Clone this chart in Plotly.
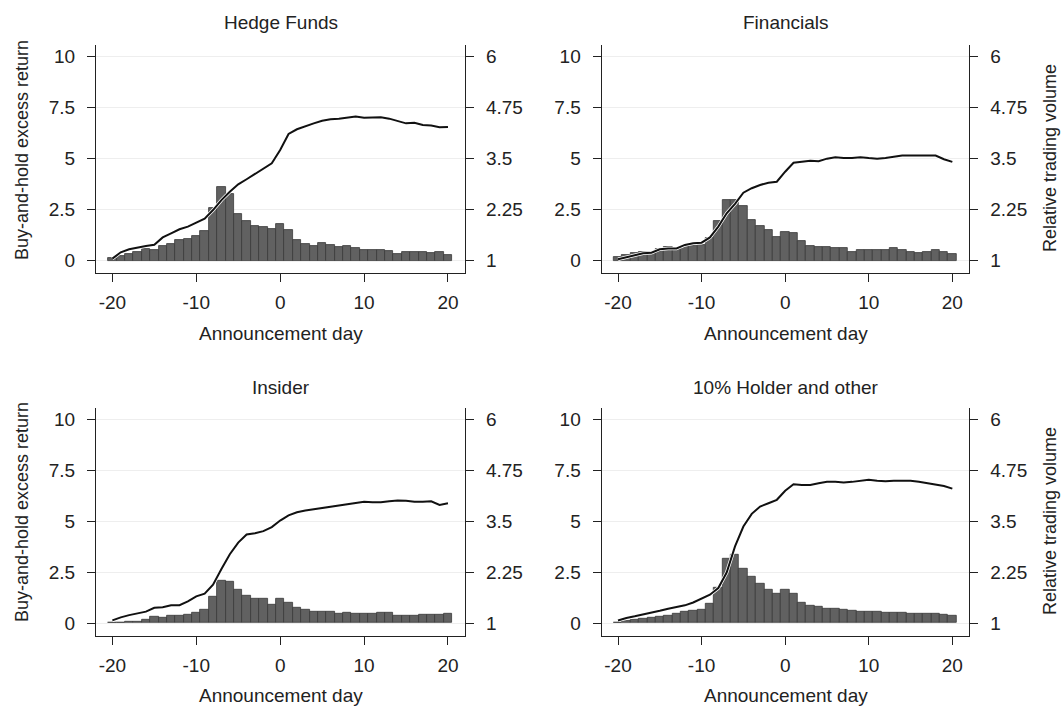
import plotly.graph_objects as go

# Event window
days = list(range(-20, 21))

titles = ["Hedge Funds", "Financials", "Insider", "10% Holder and other"]

# Relative trading volume (bars, right axis)
hf_volume = [1.07, 1.11, 1.16, 1.22, 1.28, 1.26, 1.36, 1.41, 1.51, 1.52, 1.60, 1.72, 2.28, 2.80, 2.63,
             2.14, 1.96, 1.85, 1.83, 1.77, 1.90, 1.75, 1.51, 1.41, 1.36, 1.44, 1.38, 1.34, 1.37, 1.30,
             1.26, 1.26, 1.25, 1.23, 1.16, 1.21, 1.20, 1.20, 1.18, 1.20, 1.15]
fin_volume = [1.08, 1.13, 1.18, 1.20, 1.22, 1.28, 1.33, 1.30, 1.36, 1.36, 1.38, 1.55, 1.96, 2.49, 2.49,
              2.34, 2.00, 1.85, 1.74, 1.57, 1.71, 1.67, 1.47, 1.36, 1.33, 1.33, 1.32, 1.30, 1.21, 1.26,
              1.26, 1.25, 1.25, 1.30, 1.26, 1.20, 1.18, 1.20, 1.25, 1.20, 1.16]
ins_volume = [1.01, 1.02, 1.03, 1.04, 1.08, 1.16, 1.12, 1.18, 1.18, 1.20, 1.25, 1.34, 1.64, 2.03, 2.01,
              1.82, 1.67, 1.60, 1.60, 1.46, 1.59, 1.51, 1.38, 1.33, 1.29, 1.29, 1.27, 1.23, 1.25, 1.22,
              1.22, 1.22, 1.25, 1.26, 1.18, 1.18, 1.19, 1.20, 1.20, 1.20, 1.22]
holder_volume = [1.02, 1.05, 1.08, 1.11, 1.13, 1.15, 1.19, 1.22, 1.29, 1.31, 1.33, 1.47, 1.86, 2.57, 2.69,
                 2.34, 2.13, 1.96, 1.82, 1.72, 1.82, 1.72, 1.49, 1.43, 1.39, 1.36, 1.36, 1.33, 1.31, 1.29,
                 1.28, 1.27, 1.26, 1.26, 1.25, 1.22, 1.23, 1.23, 1.22, 1.20, 1.18]

# Buy-and-hold excess return (line, left axis)
hf_return = [0.10, 0.41, 0.56, 0.65, 0.72, 0.78, 1.14, 1.34, 1.54, 1.67, 1.86, 2.06, 2.48, 2.97, 3.38,
             3.74, 3.99, 4.25, 4.48, 4.77, 5.42, 6.21, 6.44, 6.60, 6.73, 6.86, 6.93, 6.96, 7.01, 7.06,
             7.01, 7.03, 7.03, 6.96, 6.86, 6.73, 6.76, 6.65, 6.62, 6.54, 6.55]
fin_return = [0.07, 0.16, 0.28, 0.36, 0.39, 0.56, 0.60, 0.60, 0.77, 0.85, 0.88, 1.14, 1.67, 2.32, 2.78,
              3.33, 3.55, 3.71, 3.82, 3.87, 4.36, 4.80, 4.85, 4.90, 4.87, 5.00, 5.07, 5.03, 5.03, 5.07,
              5.03, 5.00, 5.03, 5.10, 5.15, 5.16, 5.16, 5.13, 5.15, 4.97, 4.84]
ins_return = [0.13, 0.28, 0.39, 0.46, 0.56, 0.75, 0.78, 0.87, 0.88, 1.06, 1.31, 1.44, 1.88, 2.65, 3.38,
              3.95, 4.35, 4.41, 4.51, 4.71, 5.03, 5.29, 5.44, 5.52, 5.59, 5.65, 5.72, 5.77, 5.83, 5.88,
              5.95, 5.93, 5.93, 5.98, 6.01, 6.00, 5.95, 5.96, 5.98, 5.80, 5.88]
holder_return = [0.13, 0.25, 0.33, 0.41, 0.49, 0.60, 0.70, 0.78, 0.87, 1.01, 1.19, 1.39, 1.72, 2.48, 3.76,
                 4.74, 5.36, 5.72, 5.88, 6.05, 6.49, 6.81, 6.78, 6.78, 6.86, 6.93, 6.93, 6.90, 6.93, 6.98,
                 7.03, 6.98, 6.96, 6.99, 6.99, 6.98, 6.94, 6.86, 6.81, 6.73, 6.60]

volumes = [hf_volume, fin_volume, ins_volume, holder_volume]
returns = [hf_return, fin_return, ins_return, holder_return]

x_ticks = [-20, -10, 0, 10, 20]
x_labels = ["-20", "-10", "0", "10", "20"]
left_ticks = [0, 2.5, 5, 7.5, 10]
left_labels = ["0", "2.5", "5", "7.5", "10"]
right_ticks = [1, 2.25, 3.5, 4.75, 6]
right_labels = ["1", "2.25", "3.5", "4.75", "6"]

W, H = 1062, 708
FONT = "Liberation Sans, Arial, sans-serif"
INK = "#222222"
TICK = dict(size=19, color=INK, family=FONT)
TXT = dict(size=19, color=INK, family=FONT)
VTXT = dict(size=18, color=INK, family=FONT)

# plot boxes in pixels: (left, right, top, bottom)
boxes = [(96, 465, 45, 273.3), (601.7, 969.3, 45, 273.3),
         (96, 465, 407.7, 635.7), (601.7, 969.3, 407.7, 635.7)]

fig = go.Figure()
layout = {}
annotations = []

for i in range(4):
    l, r, t, b = boxes[i]
    xd = [l / W, r / W]
    yd = [1 - b / H, 1 - t / H]
    n = i + 1
    xa = "x" if n == 1 else f"x{n}"
    yv = f"y{2*n-1}" if n > 1 else "y"      # right axis, bars
    yl = f"y{2*n}"                           # left axis, line

    fig.add_trace(go.Bar(x=days, y=[v - 1 for v in volumes[i]], base=1, xaxis=xa, yaxis=yv,
                         marker=dict(color="#616161", line=dict(color="#3a3a3a", width=0.8)),
                         width=1, showlegend=False))
    fig.add_trace(go.Scatter(x=days, y=returns[i], xaxis=xa, yaxis=yl, mode="lines",
                             line=dict(color="white", width=3.5), showlegend=False))
    fig.add_trace(go.Scatter(x=days, y=returns[i], xaxis=xa, yaxis=yl, mode="lines",
                             line=dict(color="#111111", width=2), showlegend=False))

    xkey = "xaxis" if n == 1 else f"xaxis{n}"
    ykey_r = "yaxis" if n == 1 else f"yaxis{2*n-1}"
    ykey_l = f"yaxis{2*n}"

    layout[xkey] = dict(domain=xd, anchor=yv, range=[-21.95, 22.03],
                        tickvals=x_ticks, ticktext=x_labels, ticks="outside", ticklen=8,
                        tickcolor=INK, showline=True, linecolor=INK, linewidth=1.3,
                        showgrid=False, zeroline=False, ticklabelstandoff=4, tickfont=TICK)
    layout[ykey_r] = dict(domain=yd, anchor=xa, side="right", range=[0.69, 6.285],
                          tickvals=right_ticks, ticktext=right_labels, ticks="outside",
                          ticklen=8, tickcolor=INK, showline=True, linecolor=INK, linewidth=1.3,
                          showgrid=True, gridcolor="#eeeeee", gridwidth=1, zeroline=False,
                          ticklabelstandoff=8, tickfont=TICK)
    layout[ykey_l] = dict(overlaying=yv, anchor=xa, side="left", range=[-0.62, 10.57],
                          tickvals=left_ticks, ticktext=left_labels, ticks="outside",
                          ticklen=8, tickcolor=INK, showline=True, linecolor=INK, linewidth=1.3,
                          showgrid=False, zeroline=False, ticklabelstandoff=8, tickfont=TICK)

    cx = (l + r) / 2 / W
    annotations.append(dict(text=titles[i], x=cx, y=1 - (23 if i < 2 else 388) / H,
                            xref="paper", yref="paper", showarrow=False,
                            xanchor="center", yanchor="middle", font=TXT))
    annotations.append(dict(text="Announcement day", x=cx, y=1 - (333 if i < 2 else 695) / H,
                            xref="paper", yref="paper", showarrow=False,
                            xanchor="center", yanchor="middle", font=TXT))

# axis titles on the outer sides only
for yc in [150, 512]:
    annotations.append(dict(text="Buy-and-hold excess return", x=22 / W, y=1 - yc / H,
                            xref="paper", yref="paper", showarrow=False, textangle=-90,
                            xanchor="center", yanchor="middle", font=VTXT))
for yc in [158, 521]:
    annotations.append(dict(text="Relative trading volume", x=1050 / W, y=1 - yc / H,
                            xref="paper", yref="paper", showarrow=False, textangle=-90,
                            xanchor="center", yanchor="middle", font=VTXT))

fig.update_layout(width=W, height=H, margin=dict(l=0, r=0, t=0, b=0),
                  paper_bgcolor="white", plot_bgcolor="white", bargap=0,
                  annotations=annotations, **layout)

# the page's default body margin would push the fixed-size figure off the window
fig.write_html("out.html", config={"displayModeBar": False},
               post_script="document.body.style.margin='0';")
